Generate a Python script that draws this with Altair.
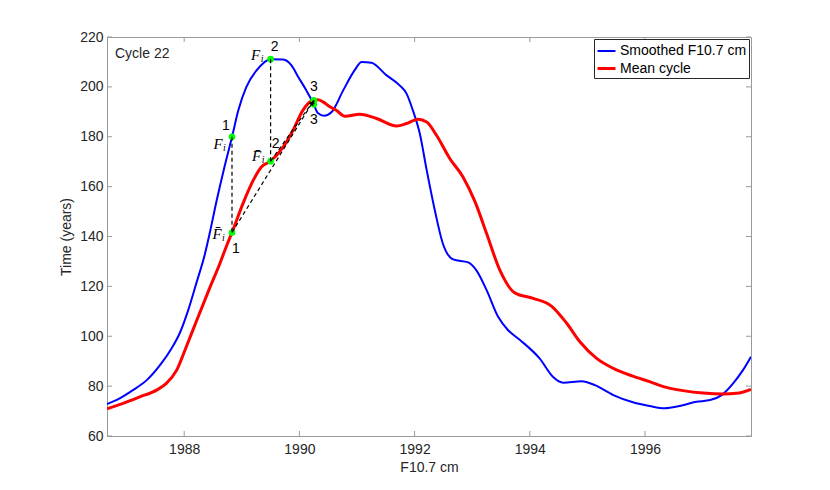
import altair as alt
import pandas as pd

# ---------------- data ----------------
years_blue = [1986.66, 1986.88, 1987.11, 1987.35, 1987.58, 1987.78, 1987.92, 1988.07, 1988.21, 1988.36,
              1988.44, 1988.56, 1988.70, 1988.83, 1988.94, 1989.08, 1989.26, 1989.50, 1989.72, 1989.86,
              1989.98, 1990.12, 1990.25, 1990.32, 1990.43, 1990.56, 1990.76, 1990.96, 1991.08, 1991.25,
              1991.51, 1991.74, 1991.86, 1991.97, 1992.09, 1992.21, 1992.35, 1992.49, 1992.67, 1992.93,
              1993.07, 1993.25, 1993.45, 1993.62, 1993.83, 1994.17, 1994.40, 1994.58, 1994.90, 1995.13,
              1995.45, 1995.79, 1996.08, 1996.34, 1996.60, 1996.89, 1997.13, 1997.33, 1997.53, 1997.70,
              1997.84]
smoothed_f107 = [72.8, 75.1, 78.4, 82.4, 88.4, 95.1, 101.1, 110.5, 121.2, 133.0,
                 141.0, 154.0, 168.0, 179.9, 190.6, 200.0, 206.7, 211.1, 211.0, 208.7,
                 204.0, 198.6, 193.0, 189.5, 188.4, 189.9, 198.6, 206.7, 210.0, 209.7,
                 204.7, 200.6, 197.3, 190.6, 181.3, 166.6, 150.6, 137.2, 130.8, 129.6,
                 126.5, 118.5, 107.8, 102.5, 98.5, 91.1, 83.8, 81.4, 82.0, 80.4,
                 76.4, 73.5, 72.0, 71.1, 72.0, 73.7, 74.4, 76.4, 81.1, 86.4,
                 91.8]

years_red = [1986.66, 1986.94, 1987.23, 1987.52, 1987.69, 1987.87, 1988.04, 1988.21, 1988.44, 1988.62,
             1988.74, 1988.83, 1989.02, 1989.20, 1989.34, 1989.50, 1989.72, 1989.89, 1990.06, 1990.24,
             1990.32, 1990.41, 1990.53, 1990.64, 1990.79, 1991.05, 1991.34, 1991.69, 1991.86, 1992.06,
             1992.21, 1992.38, 1992.61, 1992.84, 1993.05, 1993.25, 1993.48, 1993.74, 1994.06, 1994.38,
             1994.64, 1994.87, 1995.16, 1995.45, 1995.79, 1996.08, 1996.37, 1996.66, 1997.01, 1997.36,
             1997.59, 1997.84]
mean_cycle = [70.9, 73.1, 75.7, 78.4, 81.1, 86.4, 96.0, 105.9, 119.2, 129.2,
              136.5, 141.6, 153.2, 162.6, 167.9, 170.2, 175.9, 182.6, 190.6, 194.6,
              194.8, 194.0, 192.0, 190.6, 188.2, 189.0, 187.3, 184.3, 185.3, 187.0,
              185.9, 180.6, 171.3, 163.9, 153.9, 141.2, 126.5, 117.4, 115.2, 112.0,
              105.2, 97.8, 91.1, 87.1, 84.0, 81.8, 79.5, 78.2, 77.2, 76.8,
              77.1, 78.7]

series_names = ["Smoothed F10.7 cm", "Mean cycle"]
series_colors = ["#0000ff", "#ff0000"]

x_ticks = [1988, 1990, 1992, 1994, 1996]
y_ticks = [60, 80, 100, 120, 140, 160, 180, 200, 220]
x_domain = [1986.66, 1997.84]
y_domain = [60, 220]

ann_x = [1988.83, 1989.50, 1990.25]
ann_blue = [180.0, 211.1, 193.0]
ann_red = [141.6, 170.2, 194.6]
ann_num = ["1", "2", "3"]

# ---------------- chart ----------------
W, H = 644, 399
AX = "#9a9a9a"
TXT = "#262626"
SANS = "Liberation Sans"
SERIF = "Liberation Serif"

xs = alt.Scale(domain=x_domain, nice=False, zero=False)
ys = alt.Scale(domain=y_domain, nice=False, zero=False)

df = pd.concat([
    pd.DataFrame({"year": years_blue, "val": smoothed_f107, "series": series_names[0]}),
    pd.DataFrame({"year": years_red, "val": mean_cycle, "series": series_names[1]}),
], ignore_index=True)

lines = alt.Chart(df).mark_line(interpolate="monotone", clip=True).encode(
    x=alt.X("year:Q", scale=xs,
            axis=alt.Axis(values=x_ticks, format="d", title="F10.7 cm", ticks=False, grid=False,
                          labelPadding=6, titleX=W / 2, titleY=31, titleBaseline="middle",
                          titleAlign="center")),
    y=alt.Y("val:Q", scale=ys,
            axis=alt.Axis(values=y_ticks, title="Time (years)", ticks=False, grid=False,
                          labelPadding=4, titleX=-41, titleY=H / 2, titleBaseline="middle",
                          titleAlign="center", titleAngle=270)),
    color=alt.Color("series:N", scale=alt.Scale(domain=series_names, range=series_colors),
                    legend=alt.Legend(title=None, orient="top-right", offset=2,
                                      strokeColor=TXT, fillColor="white", padding=2,
                                      symbolType="stroke", symbolSize=324,
                                      symbolStrokeWidth=2.5, labelFont=SANS,
                                      labelFontSize=14, labelColor="black", rowPadding=0,
                                      labelOffset=3, cornerRadius=0)),
    strokeWidth=alt.StrokeWidth("series:N", scale=alt.Scale(domain=series_names, range=[2, 3]),
                                legend=None),
)

# inward ticks (MATLAB style box)
ydf = pd.DataFrame({"val": y_ticks})
xdf = pd.DataFrame({"year": x_ticks})
tick_style = dict(color=AX, strokeWidth=1)
lt = alt.Chart(ydf).mark_rule(**tick_style).encode(y=alt.Y("val:Q", scale=ys), x=alt.value(0), x2=alt.value(5))
rt = alt.Chart(ydf).mark_rule(**tick_style).encode(y=alt.Y("val:Q", scale=ys), x=alt.value(W - 5), x2=alt.value(W))
bt = alt.Chart(xdf).mark_rule(**tick_style).encode(x=alt.X("year:Q", scale=xs), y=alt.value(H), y2=alt.value(H - 5))
tt = alt.Chart(xdf).mark_rule(**tick_style).encode(x=alt.X("year:Q", scale=xs), y=alt.value(0), y2=alt.value(5))

# annotations
seg = pd.DataFrame({
    "year": ann_x + [ann_x[0], ann_x[1]],
    "val": ann_blue + [ann_red[0], ann_red[1]],
    "year2": ann_x + [ann_x[2], ann_x[2]],
    "val2": ann_red + [ann_red[2], ann_red[2]],
})
dashes = alt.Chart(seg).mark_rule(color="black", strokeWidth=1.2, strokeDash=[4, 3]).encode(
    x=alt.X("year:Q", scale=xs), y=alt.Y("val:Q", scale=ys), x2="year2:Q", y2="val2:Q")

pts = pd.DataFrame({"year": ann_x + ann_x, "val": ann_blue + ann_red})
dots = alt.Chart(pts).mark_point(shape="circle", filled=True, size=45, color="#00ff00", opacity=1).encode(
    x=alt.X("year:Q", scale=xs), y=alt.Y("val:Q", scale=ys))

arrow = alt.Chart(pd.DataFrame({"year": [ann_x[2]], "val": [ann_red[2]]})).mark_point(
    shape="triangle-up", filled=True, size=28, color="black", opacity=1, angle=33,
    xOffset=-1.5, yOffset=2.5).encode(x=alt.X("year:Q", scale=xs), y=alt.Y("val:Q", scale=ys))


def label(xv, yv, txt, dx, dy, font=SANS, size=14, style="normal"):
    return alt.Chart(pd.DataFrame({"year": [xv], "val": [yv], "t": [txt]})).mark_text(
        dx=dx, dy=dy, font=font, fontSize=size, fontStyle=style, color="black",
        align="center", baseline="middle").encode(
        x=alt.X("year:Q", scale=xs), y=alt.Y("val:Q", scale=ys), text="t:N")


def f_label(xv, yv, dx, dy, bar=False):
    main = "F\u0304" if bar else "F"
    return [label(xv, yv, main, dx, dy, SERIF, 15, "italic"),
            label(xv, yv, "i", dx + 6.5, dy + 4, SERIF, 10, "italic")]


texts = [
    label(ann_x[0], ann_blue[0], ann_num[0], -6, -11),
    label(ann_x[1], ann_blue[1], ann_num[1], 4, -12),
    label(ann_x[2], ann_red[2], ann_num[2], 0, -13),
    label(ann_x[2], ann_blue[2], ann_num[2], 0, 16),
    label(ann_x[0], ann_red[0], ann_num[0], 4, 16),
    label(ann_x[1], ann_red[1], ann_num[1], 5, -17),
]
texts += f_label(ann_x[0], ann_blue[0], -14, 7)
texts += f_label(ann_x[1], ann_blue[1], -15, -4)
texts += f_label(ann_x[0], ann_red[0], -15, 1, bar=True)
texts += f_label(ann_x[1], ann_red[1], -14, -5, bar=True)

cycle = alt.Chart(pd.DataFrame({"t": ["Cycle 22"]})).mark_text(
    align="left", baseline="alphabetic", font=SANS, fontSize=14, color=TXT).encode(
    x=alt.value(8), y=alt.value(20.6), text="t:N")

chart = alt.layer(lines, lt, rt, bt, tt, dots, dashes, arrow, *texts, cycle).properties(
    width=W, height=H,
    padding={"left": 99, "top": 29, "right": 60, "bottom": 50},
    autosize=alt.AutoSizeParams(type="none"),
    background="white",
).configure_view(stroke=AX, strokeWidth=1).configure_axis(
    domainColor=AX, domainWidth=1, grid=False, labelFont=SANS, labelFontSize=14,
    labelColor=TXT, titleFont=SANS, titleFontSize=14, titleFontWeight="normal", titleColor=TXT,
)

chart.save("out.html", embed_options={"renderer": "svg", "actions": False})
